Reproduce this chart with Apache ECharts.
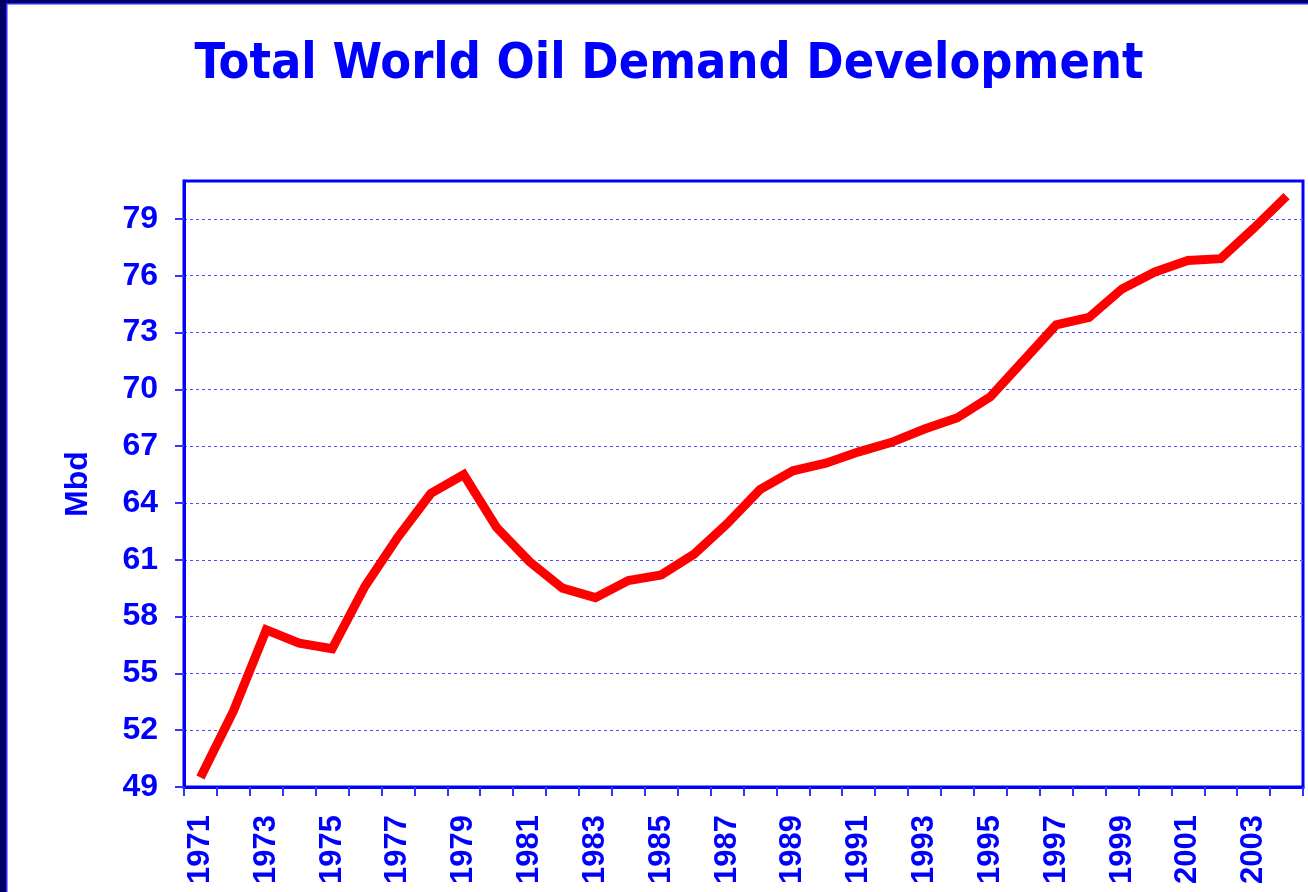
<!DOCTYPE html>
<html>
<head>
<meta charset="utf-8">
<script src="https://cdn.jsdelivr.net/npm/echarts@6/dist/echarts.min.js"></script>
<style>
html,body{margin:0;padding:0;background:#fff;}
#chart{width:1308px;height:892px;}
</style>
</head>
<body>
<div id="chart"></div>
<script>
const years = ['1971','1972','1973','1974','1975','1976','1977','1978','1979','1980','1981','1982','1983','1984','1985','1986','1987','1988','1989','1990','1991','1992','1993','1994','1995','1996','1997','1998','1999','2000','2001','2002','2003','2004'];
const demand = [49.5,53.0,57.3,56.6,56.3,59.6,62.2,64.5,65.5,62.7,60.9,59.5,59.0,59.9,60.2,61.3,62.9,64.7,65.7,66.1,66.7,67.2,67.9,68.5,69.6,71.5,73.4,73.8,75.3,76.2,76.8,76.9,78.5,80.2];
const yTicks = [49,52,55,58,61,64,67,70,73,76,79];
const titleText = 'Total World Oil Demand Development';
const yName = 'Mbd';

const chart = echarts.init(document.getElementById('chart'), null, {renderer:'canvas'});
const blue = '#0000ff';
chart.setOption({
  backgroundColor: '#ffffff',
  animation: false,
  title: {
    text: titleText,
    left: 664,
    top: 35,
    textAlign: 'center',
    textStyle: {
      fontFamily: 'DejaVu Sans Condensed',
      fontWeight: 'bold',
      fontSize: 50,
      color: blue
    }
  },
  graphic: [
    {type:'rect', shape:{x:0,y:0,width:6,height:892}, style:{fill:'#000066'}, z:100},
    {type:'rect', shape:{x:6,y:0,width:1.5,height:892}, style:{fill:'#2a2aff'}, z:100},
    {type:'rect', shape:{x:0,y:0,width:1308,height:3}, style:{fill:'#000066'}, z:100},
    {type:'rect', shape:{x:6,y:3,width:1302,height:1.5}, style:{fill:'#2a2aff'}, z:100}
  ],
  grid: {
    left: 184, top: 181, right: 5, bottom: 105,
    show: true, borderColor: blue, borderWidth: 3, backgroundColor: 'transparent'
  },
  xAxis: {
    type: 'category',
    data: years,
    boundaryGap: true,
    axisLine: {show: true, lineStyle: {color: blue, width: 3}},
    axisTick: {show: true, interval: 0, length: 9, lineStyle: {color: '#3333ff', width: 2}},
    axisLabel: {
      interval: 1, rotate: 90, margin: 28,
      color: blue, fontFamily: 'Liberation Sans', fontWeight: 'bold', fontSize: 31
    },
    splitLine: {show: false}
  },
  yAxis: {
    type: 'value',
    min: 49, max: 81,
    name: yName,
    nameLocation: 'middle',
    nameRotate: 90,
    nameGap: 90,
    nameTextStyle: {color: blue, fontFamily: 'Liberation Sans', fontWeight: 'bold', fontSize: 32},
    axisLine: {show: true, lineStyle: {color: blue, width: 3}},
    axisTick: {show: true, length: 9, customValues: yTicks, lineStyle: {color: '#3333ff', width: 2}},
    axisLabel: {
      customValues: yTicks, margin: 26,
      color: blue, fontFamily: 'Liberation Sans', fontWeight: 'bold', fontSize: 32
    },
    splitLine: {show: true, lineStyle: {color: '#4d4dff', width: 1, type: [3, 3]}}
  },
  series: [{
    type: 'line',
    data: demand,
    symbol: 'none',
    lineStyle: {color: '#ff0000', width: 9, cap: 'butt', join: 'miter'},
    itemStyle: {color: '#ff0000'}
  }]
});
</script>
</body>
</html>
